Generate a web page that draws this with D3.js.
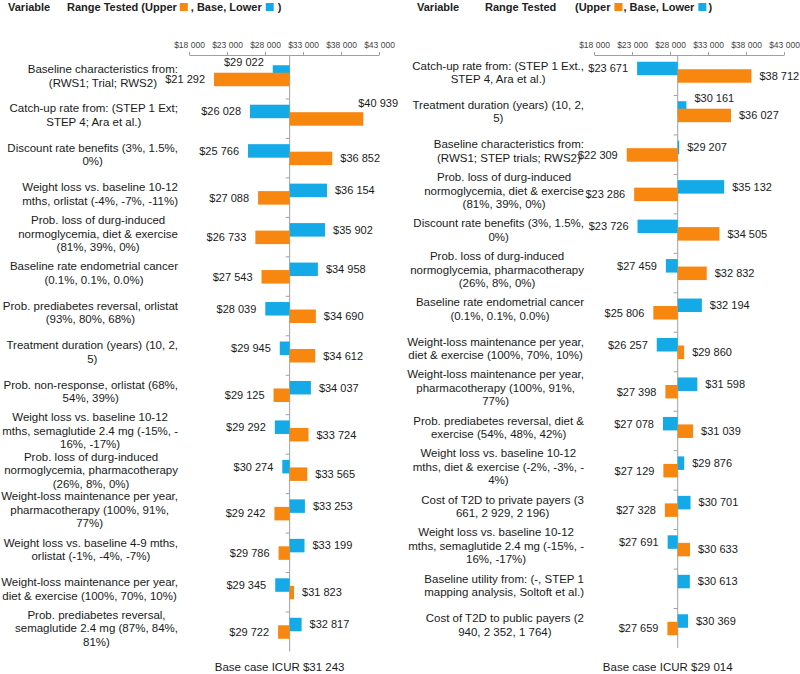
<!DOCTYPE html>
<html>
<head>
<meta charset="utf-8">
<title>ICUR tornado diagrams</title>
<script src="https://cdnjs.cloudflare.com/ajax/libs/d3/7.8.5/d3.min.js"></script>
<style>
body { margin: 0; background: #fff; }
svg text { font-family: "Liberation Sans", Arial, sans-serif; fill: #1a1a1a; }
</style>
</head>
<body>
<svg id="chart" width="800" height="674"></svg>
<script>
// left panel: orlistat comparison
var leftLabels = [
  ["Baseline characteristics from:", "(RWS1; Trial; RWS2)"],
  ["Catch-up rate from: (STEP 1 Ext;", "STEP 4; Ara et al.)"],
  ["Discount rate benefits (3%, 1.5%,", "0%)"],
  ["Weight loss vs. baseline 10-12", "mths, orlistat (-4%, -7%, -11%)"],
  ["Prob. loss of durg-induced", "normoglycemia, diet & exercise", "(81%, 39%, 0%)"],
  ["Baseline rate endometrial cancer", "(0.1%, 0.1%, 0.0%)"],
  ["Prob. prediabetes reversal, orlistat", "(93%, 80%, 68%)"],
  ["Treatment duration (years) (10, 2,", "5)"],
  ["Prob. non-response, orlistat (68%,", "54%, 39%)"],
  ["Weight loss vs. baseline 10-12", "mths, semaglutide 2.4 mg (-15%, -", "16%, -17%)"],
  ["Prob. loss of durg-induced", "normoglycemia, pharmacotherapy", "(26%, 8%, 0%)"],
  ["Weight-loss maintenance per year,", "pharmacotherapy (100%, 91%,", "77%)"],
  ["Weight loss vs. baseline 4-9 mths,", "orlistat (-1%, -4%, -7%)"],
  ["Weight-loss maintenance per year,", "diet & exercise (100%, 70%, 10%)"],
  ["Prob. prediabetes reversal,", "semaglutide 2.4 mg (87%, 84%,", "81%)"]
];
var leftLower = [29022, 26028, 25766, 36154, 35902, 34958, 28039, 29945, 34037, 29292, 30274, 33253, 33199, 29345, 32817];
var leftUpper = [21292, 40939, 36852, 27088, 26733, 27543, 34690, 34612, 29125, 33724, 33565, 29242, 29786, 31823, 29722];
var leftBase = 31243;

// right panel: diet & exercise comparison
var rightLabels = [
  ["Catch-up rate from: (STEP 1 Ext.,", "STEP 4, Ara et al.)"],
  ["Treatment duration (years) (10, 2,", "5)"],
  ["Baseline characteristics from:", "(RWS1; STEP trials; RWS2)"],
  ["Prob. loss of durg-induced", "normoglycemia, diet & exercise", "(81%, 39%, 0%)"],
  ["Discount rate benefits (3%, 1.5%,", "0%)"],
  ["Prob. loss of durg-induced", "normoglycemia, pharmacotherapy", "(26%, 8%, 0%)"],
  ["Baseline rate endometrial cancer", "(0.1%, 0.1%, 0.0%)"],
  ["Weight-loss maintenance per year,", "diet & exercise (100%, 70%, 10%)"],
  ["Weight-loss maintenance per year,", "pharmacotherapy (100%, 91%,", "77%)"],
  ["Prob. prediabetes reversal, diet &", "exercise (54%, 48%, 42%)"],
  ["Weight loss vs. baseline 10-12", "mths, diet & exercise (-2%, -3%, -", "4%)"],
  ["Cost of T2D to private payers (3", "661, 2 929, 2 196)"],
  ["Weight loss vs. baseline 10-12", "mths, semaglutide 2.4 mg (-15%, -", "16%, -17%)"],
  ["Baseline utility from: (-, STEP 1", "mapping analysis, Soltoft et al.)"],
  ["Cost of T2D to public payers (2", "940, 2 352, 1 764)"]
];
var rightLower = [23671, 30161, 29207, 35132, 23726, 27459, 32194, 26257, 31598, 27078, 29876, 30701, 27691, 30613, 30369];
var rightUpper = [38712, 36027, 22309, 23286, 34505, 32832, 25806, 29860, 27398, 31039, 27129, 27328, 30633, null, 27659];
var rightBase = 29014;

var tickValues = [18000, 23000, 28000, 33000, 38000, 43000];

var blue = "#14aae8", orange = "#f7870f";
var loc = d3.formatLocale({decimal: ".", thousands: " ", grouping: [3], currency: ["$", ""]});
var money = loc.format("$,.0f");

var svg = d3.select("#chart");

function header(x0, parts) {
  var g = svg.append("g").attr("font-size", "11px").attr("font-weight", "bold");
  var x = x0;
  parts.forEach(function(p) {
    if (p.gap) { x += p.gap; return; }
    if (p.at != null) x = p.at;
    if (p.color) {
      g.append("rect").attr("x", x).attr("y", 3).attr("width", 8).attr("height", 8).attr("fill", p.color);
      x += 8;
    } else {
      var t = g.append("text").attr("x", x).attr("y", 11).text(p.text).style("fill", "#222");
      x += t.node().getComputedTextLength();
    }
  });
}

function panel(o) {
  var g = svg.append("g");
  var x = d3.scaleLinear().domain([18000, 43000]).range(o.xr);
  var y = d3.scaleBand().domain(d3.range(o.labels.length)).range(o.yr);
  var bx = x(o.base);

  var ax = g.append("g").attr("transform", "translate(0,55)")
    .call(d3.axisTop(x).tickValues(tickValues).tickFormat(money).tickSize(3).tickSizeOuter(0).tickPadding(4));
  ax.selectAll("path, line").attr("stroke", "#a0a0a0");
  ax.selectAll("text").attr("font-size", "8.5px").style("fill", "#444")
    .style("font-family", "'Liberation Sans', Arial, sans-serif");

  g.append("line").attr("x1", bx).attr("x2", bx).attr("y1", 55).attr("y2", o.yr[1])
    .attr("stroke", "#a0a0a0");
  g.selectAll(".ytick").data(d3.range(1, o.labels.length)).enter().append("line")
    .attr("x1", bx - 4).attr("x2", bx).attr("y1", function(d) { return y(d); }).attr("y2", function(d) { return y(d); })
    .attr("stroke", "#a0a0a0");

  function cy(i) { return y(i) + y.bandwidth() / 2 - 3.5; }

  var rows = d3.range(o.labels.length);
  g.selectAll(".lo").data(rows).enter().append("rect")
    .attr("x", function(i) { return Math.min(bx, x(o.lower[i])); })
    .attr("width", function(i) { return Math.abs(x(o.lower[i]) - bx); })
    .attr("y", function(i) { return cy(i) - 10.5; })
    .attr("height", 13.5).attr("fill", blue);
  g.selectAll(".up").data(rows.filter(function(i) { return o.upper[i] != null; })).enter().append("rect")
    .attr("x", function(i) { return Math.min(bx, x(o.upper[i])); })
    .attr("width", function(i) { return Math.abs(x(o.upper[i]) - bx); })
    .attr("y", function(i) { return cy(i) - 3; })
    .attr("height", 13.5).attr("fill", orange);

  function valueLabel(v, yc, hidden) {
    var xe = x(v);
    var t = g.append("text").text(money(v)).attr("y", yc).attr("dy", "0.35em").attr("font-size", "11px");
    if (v >= o.base) {
      t.attr("x", xe + 8).attr("text-anchor", "start");
      if (xe + 8 + t.node().getComputedTextLength() > o.edge + 5) {
        t.attr("text-anchor", "end").attr("x", o.edge - 2).attr("y", yc - 16);
      }
    } else {
      t.attr("x", xe - 9).attr("text-anchor", "end");
    }
    if (hidden) t.attr("y", yc - 10);
  }

  rows.forEach(function(i) {
    var c = cy(i), lo = o.lower[i], up = o.upper[i];
    var hidden = up != null && (lo - o.base) * (up - o.base) > 0 && Math.abs(up - o.base) > Math.abs(lo - o.base);
    valueLabel(lo, c - 3.75, hidden);
    if (up != null) valueLabel(up, c + 3.75, false);

    // category label: lines centred in a block right-aligned to the label edge
    var lines = o.labels[i];
    var t = g.append("text").attr("font-size", "11.5px").attr("text-anchor", "middle");
    var spans = lines.map(function(s, k) {
      return t.append("tspan").text(s).attr("y", c + (k - (lines.length - 1) / 2) * 13.5).attr("dy", "0.35em");
    });
    var w = d3.max(spans, function(s) { return s.node().getComputedTextLength(); });
    spans.forEach(function(s) { s.attr("x", o.labelRight - w / 2); });
  });

  g.append("text").attr("x", bx - 10).attr("y", 667).attr("dy", "0.35em").attr("text-anchor", "middle")
    .attr("font-size", "11.5px").text("Base case ICUR " + money(o.base));
}

header(8, [{text: "Variable"}, {at: 67, text: "Range Tested (Upper"}, {gap: 3}, {color: orange}, {gap: 3},
  {text: ", Base, Lower"}, {gap: 4}, {color: blue}, {gap: 4}, {text: ")"}]);
header(417, [{text: "Variable"}, {at: 485, text: "Range Tested"}, {at: 575, text: "(Upper"}, {gap: 4}, {color: orange},
  {gap: 1}, {text: ", Base, Lower"}, {gap: 4}, {color: blue}, {gap: 2}, {text: ")"}]);

panel({labels: leftLabels, lower: leftLower, upper: leftUpper, base: leftBase,
  xr: [189, 379], yr: [59.5, 651.5], labelRight: 178, edge: 400});
panel({labels: rightLabels, lower: rightLower, upper: rightUpper, base: rightBase,
  xr: [594, 784], yr: [56, 648], labelRight: 584, edge: 800});
</script>
</body>
</html>
